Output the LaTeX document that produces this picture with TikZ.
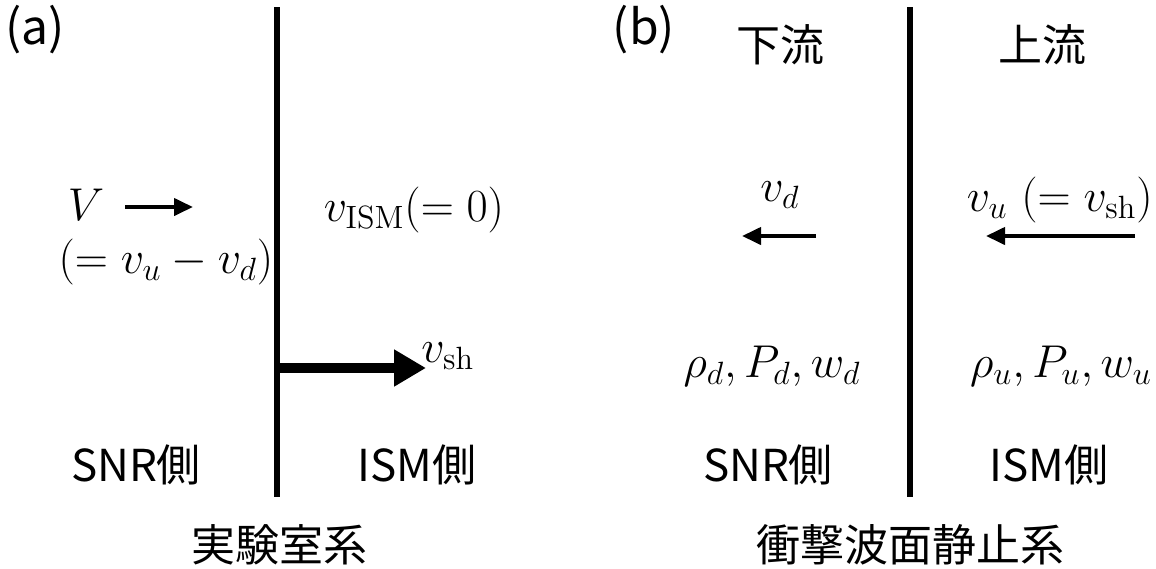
\RequirePackage{fix-cm}
\documentclass[tikz,border=0pt]{standalone}
\usepackage[no-math]{fontspec}
\newfontfamily\jpfont{Noto Sans CJK JP}
\usetikzlibrary{arrows.meta,positioning}

\begin{document}
\begin{tikzpicture}[x=0.5pt,y=-0.5pt,
lbl/.style={font=\jpfont\fontsize{22}{26}\selectfont,inner sep=0pt},
sym/.style={font=\fontsize{23}{27}\selectfont,inner sep=0pt},
shock/.style={line width=2.6pt},
vel/.style={-{Triangle[length=9.5pt,width=8.5pt]},line width=2pt},
fast/.style={-{Triangle[length=16pt,width=17.5pt]},line width=4.6pt}]
\useasboundingbox (0,0) rectangle (1156,568);
% (a) laboratory frame
\coordinate (sa1) at (277,7); \coordinate (sa2) at (277,497);
\draw[shock] (sa1)--(sa2);
\node[lbl,font=\jpfont\fontsize{24}{28}\selectfont] (a) at (35,30) {(a)};
\node[sym] (V) at (86,205) {$V$};
\coordinate (V1) at (125,207); \coordinate (V2) at (193,207);
\draw[vel] (V1)--(V2);
\node[sym] (Veq) at (166,262) {$(=v_u-v_d)$};
\node[sym] (vism) at (414,210) {$v_{\mathrm{ISM}}(=0)$};
\coordinate (sh1) at (277,368); \coordinate (sh2) at (426,368);
\draw[fast] (sh1)--(sh2);
\node[sym,anchor=west] (vsh) at (421,356) {$v_{\mathrm{sh}}$};
\node[lbl] (snra) at (136,465) {SNR側};
\node[lbl] (isma) at (417,465) {ISM側};
\node[lbl] (laba) at (279,545) {実験室系};
% (b) shock rest frame
\coordinate (sb1) at (910,7); \coordinate (sb2) at (910,497);
\draw[shock] (sb1)--(sb2);
\node[lbl,font=\jpfont\fontsize{24}{28}\selectfont] (b) at (644,30) {(b)};
\node[lbl] (down) at (780,45) {下流};
\node[lbl] (up) at (1042,45) {上流};
\node[sym] (vd) at (780,195) {$v_d$};
\coordinate (d1) at (816,236); \coordinate (d2) at (742,236);
\draw[vel] (d1)--(d2);
\node[sym,anchor=east] (vu) at (1153,200) {$v_u\ (=v_{\mathrm{sh}})$};
\coordinate (u1) at (1135,236); \coordinate (u2) at (986,236);
\draw[vel] (u1)--(u2);
\node[sym] (pd) at (772,366) {$\rho_d,P_d,w_d$};
\node[sym] (pu) at (1061,366) {$\rho_u,P_u,w_u$};
\node[lbl] (snrb) at (768,465) {SNR側};
\node[lbl] (ismb) at (1049,465) {ISM側};
\node[lbl] (labb) at (910,545) {衝撃波面静止系};
\end{tikzpicture}
\end{document}
